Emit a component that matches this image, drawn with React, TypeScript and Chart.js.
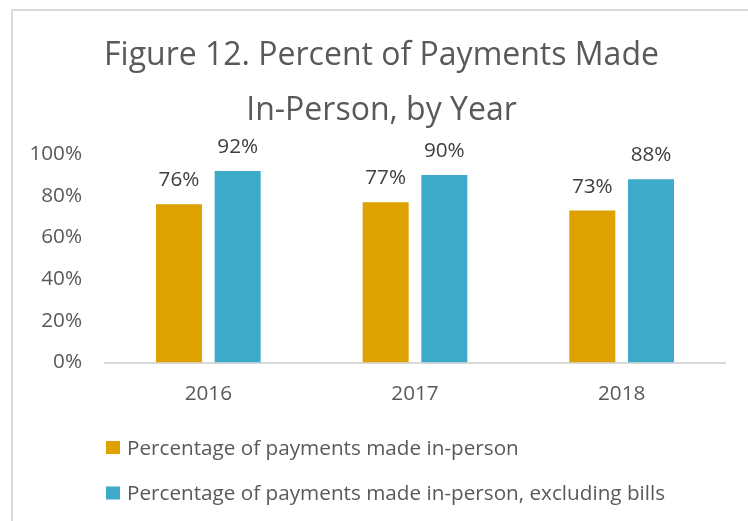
import React, { useEffect, useRef } from "react";
import { Chart, registerables } from "chart.js";

Chart.register(...registerables);

const categories = ["2016", "2017", "2018"];
const seriesNames = [
  "Percentage of payments made in-person",
  "Percentage of payments made in-person, excluding bills",
];
const inPerson = [76, 77, 73];
const inPersonExclBills = [92, 90, 88];
const seriesColors = ["#DDA200", "#3EAACA"];
const titleLines = ["Figure 12. Percent of Payments Made", "In-Person, by Year"];
const yTicks = [0, 20, 40, 60, 80, 100];

const FONT = "'Open Sans', sans-serif";
const TEXT_GRAY = "#595959";
const LABEL_DARK = "#404040";
const TITLE_CENTER_X = 381.5;

const borderPlugin = {
  id: "frameBorder",
  beforeDraw(chart: any) {
    const ctx = chart.ctx;
    ctx.save();
    ctx.strokeStyle = "#d9d9d9";
    ctx.lineWidth = 2;
    ctx.beginPath();
    ctx.moveTo(12, chart.height + 10);
    ctx.lineTo(12, 10);
    ctx.lineTo(chart.width + 10, 10);
    ctx.stroke();
    ctx.restore();
  },
};

const titleShiftPlugin = {
  id: "titleShift",
  afterLayout(chart: any) {
    const t = chart.titleBlock;
    if (t) {
      const right = t.right;
      t.left = 2 * TITLE_CENTER_X - right;
      t.width = t.right - t.left;
    }
  },
};

const dataLabelPlugin = {
  id: "barValueLabels",
  afterDatasetsDraw(chart: any) {
    const ctx = chart.ctx;
    ctx.save();
    ctx.font = `20.7px ${FONT}`;
    ctx.fillStyle = LABEL_DARK;
    ctx.textAlign = "center";
    ctx.textBaseline = "alphabetic";
    chart.data.datasets.forEach((ds: any, di: number) => {
      const meta = chart.getDatasetMeta(di);
      meta.data.forEach((bar: any, i: number) => {
        ctx.fillText(`${ds.data[i]}%`, bar.x, bar.y - 18);
      });
    });
    ctx.restore();
  },
};

const customLegendPlugin = {
  id: "stackedLegend",
  afterDraw(chart: any) {
    const ctx = chart.ctx;
    const area = chart.chartArea;
    ctx.save();
    ctx.font = `20.7px ${FONT}`;
    ctx.textAlign = "left";
    ctx.textBaseline = "alphabetic";
    chart.data.datasets.forEach((ds: any, i: number) => {
      const top = area.bottom + 78.5 + i * 45.5;
      const x = area.left + 1;
      ctx.fillStyle = ds.backgroundColor;
      ctx.fillRect(x, top, 14, 13);
      ctx.fillStyle = TEXT_GRAY;
      ctx.fillText(ds.label, x + 21, top + 13.5);
    });
    ctx.restore();
  },
};

export default function App() {
  const canvasRef = useRef<HTMLCanvasElement | null>(null);

  useEffect(() => {
    if (!canvasRef.current) return;
    const chart = new Chart(canvasRef.current, {
      type: "bar",
      data: {
        labels: categories,
        datasets: [
          {
            label: seriesNames[0],
            data: inPerson,
            backgroundColor: seriesColors[0],
            categoryPercentage: 0.568,
            barPercentage: 0.784,
          },
          {
            label: seriesNames[1],
            data: inPersonExclBills,
            backgroundColor: seriesColors[1],
            categoryPercentage: 0.568,
            barPercentage: 0.784,
          },
        ],
      },
      options: {
        responsive: false,
        animation: false,
        devicePixelRatio: 1,
        layout: { padding: { left: 0, right: 23, top: 0, bottom: 98.5 } },
        plugins: {
          legend: { display: false },
          tooltip: { enabled: false },
          title: {
            display: true,
            text: titleLines,
            color: TEXT_GRAY,
            font: { family: FONT, size: 32, weight: "normal", lineHeight: "55px" },
            padding: { top: 28.5, bottom: 15.8 },
          },
        },
        scales: {
          x: {
            grid: { display: false, drawTicks: false },
            border: { display: true, color: "#d9d9d9", width: 2 },
            ticks: {
              color: TEXT_GRAY,
              font: { family: FONT, size: 20.7 },
              padding: 19,
            },
            afterFit(scale: any) {
              scale.height = 60;
            },
          },
          y: {
            min: 0,
            max: 100,
            grid: { display: false, drawTicks: false },
            border: { display: false },
            afterBuildTicks(scale: any) {
              scale.ticks = yTicks.map((v) => ({ value: v }));
            },
            ticks: {
              color: TEXT_GRAY,
              font: { family: FONT, size: 20.7 },
              padding: 23,
              callback: (v: any) => `${v}%`,
            },
            afterFit(scale: any) {
              scale.width = 105;
            },
          },
        },
      },
      plugins: [borderPlugin, titleShiftPlugin, dataLabelPlugin, customLegendPlugin],
    });
    return () => chart.destroy();
  }, []);

  return (
    <div style={{ position: "absolute", left: 0, top: 0, width: 748, height: 521, background: "#fff" }}>
      <canvas ref={canvasRef} width={748} height={521} />
    </div>
  );
}
